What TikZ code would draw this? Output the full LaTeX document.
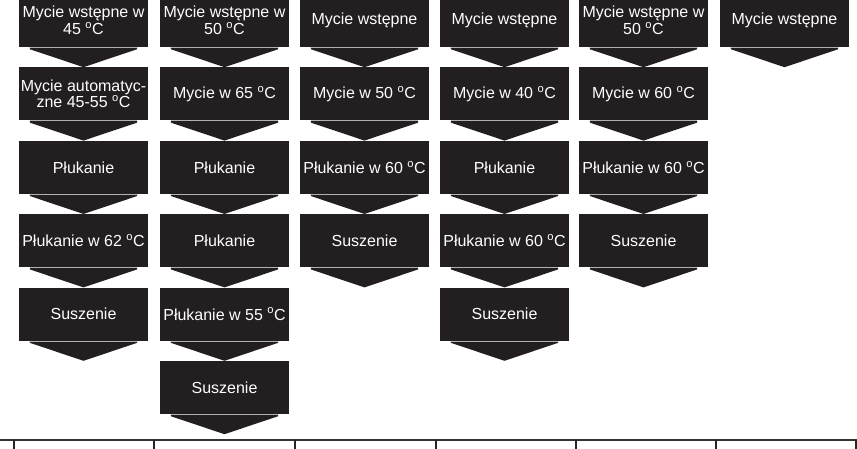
\documentclass[tikz,border=0pt]{standalone}
\usepackage{fontspec}
\setmainfont{Liberation Sans}
\usepackage{tikz}
\usetikzlibrary{positioning}
\usepackage{xcolor}
\definecolor{ciemny}{HTML}{231F20}
\newcommand{\degC}{\textsuperscript{o}C}

\begin{document}
\begin{tikzpicture}[
    x=1pt, y=-1pt,
    node distance=20pt,
    etap/.style={fill=ciemny, text=white, minimum width=129pt, minimum height=53pt, inner sep=0pt, align=center, font=\fontsize{16}{15}\selectfont},
    grot/.style={fill=ciemny},
    szew/.style={draw=gray!60, line width=0.5pt}
]
\clip (0,0) rectangle (857,449);
% column 1
\node (a1) [etap] at (83.5,20.5) {Mycie wstępne w\\45 \degC};
\node (a2) [etap, below=of a1] {Mycie automatyc-\\zne 45-55 \degC};
\node (a3) [etap, below=of a2] {Płukanie};
\node (a4) [etap, below=of a3] {Płukanie w 62 \degC};
\node (a5) [etap, below=of a4] {Suszenie};
% column 2
\node (b1) [etap] at (224.5,20.5) {Mycie wstępne w\\50 \degC};
\node (b2) [etap, below=of b1] {Mycie w 65 \degC};
\node (b3) [etap, below=of b2] {Płukanie};
\node (b4) [etap, below=of b3] {Płukanie};
\node (b5) [etap, below=of b4] {Płukanie w 55 \degC};
\node (b6) [etap, below=of b5] {Suszenie};
% column 3
\node (c1) [etap] at (364.5,20.5) {Mycie wstępne};
\node (c2) [etap, below=of c1] {Mycie w 50 \degC};
\node (c3) [etap, below=of c2] {Płukanie w 60 \degC};
\node (c4) [etap, below=of c3] {Suszenie};
% column 4
\node (d1) [etap] at (504.5,20.5) {Mycie wstępne};
\node (d2) [etap, below=of d1] {Mycie w 40 \degC};
\node (d3) [etap, below=of d2] {Płukanie};
\node (d4) [etap, below=of d3] {Płukanie w 60 \degC};
\node (d5) [etap, below=of d4] {Suszenie};
% column 5
\node (e1) [etap] at (643.5,20.5) {Mycie wstępne w\\50 \degC};
\node (e2) [etap, below=of e1] {Mycie w 60 \degC};
\node (e3) [etap, below=of e2] {Płukanie w 60 \degC};
\node (e4) [etap, below=of e3] {Suszenie};
% column 6
\node (f1) [etap] at (784.5,20.5) {Mycie wstępne};
% arrow heads under every step
\foreach \n in {a1,a2,a3,a4,a5,b1,b2,b3,b4,b5,b6,c1,c2,c3,c4,d1,d2,d3,d4,d5,e1,e2,e3,e4,f1} {
    \fill[grot] ([xshift=11pt]\n.south west) -- ([xshift=-11pt]\n.south east)
        -- ([xshift=-11pt,yshift=-2pt]\n.south east) -- ([yshift=-20pt]\n.south)
        -- ([xshift=11pt,yshift=-2pt]\n.south west) -- cycle;
    \draw[szew] ([xshift=11pt]\n.south west) -- ([xshift=-11pt]\n.south east);
}
% table edge at the bottom
\draw[black!80, line width=1.5pt] (0,440) -- (857,440);
\foreach \x in {14,154,295,436,576,716,856}
    \draw[black!85, line width=1.2pt] (\x,440) -- (\x,452);
\end{tikzpicture}
\end{document}
